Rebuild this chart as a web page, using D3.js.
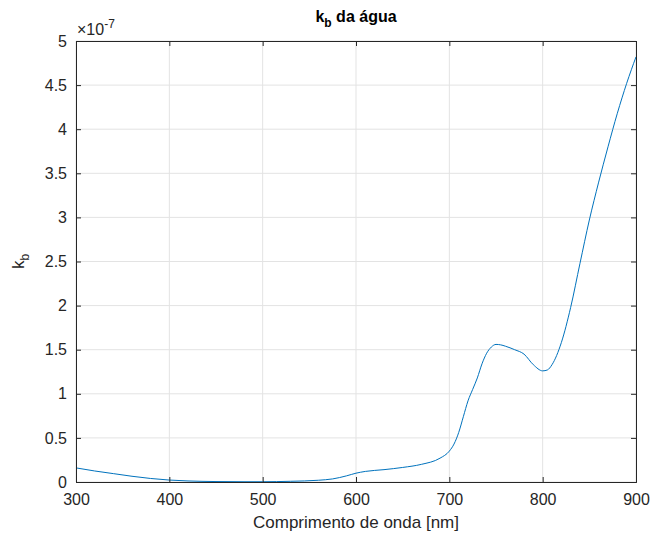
<!DOCTYPE html>
<html>
<head>
<meta charset="utf-8">
<script src="https://cdn.jsdelivr.net/npm/d3@7"></script>
<style>
  html, body { margin: 0; padding: 0; background: #fff; }
  svg { display: block; font-family: "Liberation Sans", Arial, sans-serif; }
</style>
</head>
<body>
<svg id="chart" width="652" height="537"></svg>
<script>
// Wavelength in nm
const wavelength = [300, 320, 340, 360, 380, 400, 420, 450, 480, 500, 530, 560, 575, 590, 600, 610, 630, 650, 670, 690, 700, 705, 710, 715, 720, 725, 730, 735, 740, 745, 750, 755, 760, 770, 780, 790, 800, 805, 810, 820, 830, 840, 850, 860, 870, 880, 890, 900];
// k_b of water (units of 1e-7)
const kb = [0.16, 0.125, 0.095, 0.065, 0.04, 0.022, 0.012, 0.005, 0.003, 0.003, 0.008, 0.02, 0.035, 0.07, 0.1, 0.12, 0.14, 0.165, 0.2, 0.27, 0.35, 0.43, 0.56, 0.74, 0.92, 1.05, 1.18, 1.34, 1.46, 1.53, 1.56, 1.555, 1.54, 1.5, 1.45, 1.33, 1.26, 1.27, 1.33, 1.58, 1.98, 2.48, 2.97, 3.4, 3.8, 4.18, 4.52, 4.82];

const xTicks = [300, 400, 500, 600, 700, 800, 900];
const yTicks = [0, 0.5, 1, 1.5, 2, 2.5, 3, 3.5, 4, 4.5, 5];

const svg = d3.select("#chart");
const m = { left: 76, right: 636, top: 41, bottom: 482 };
const axisColor = "#262626";
const fontFam = "Liberation Sans, Arial, sans-serif";

const x = d3.scaleLinear().domain([300, 900]).range([m.left, m.right]);
const y = d3.scaleLinear().domain([0, 5]).range([m.bottom, m.top]);

// grid
const grid = svg.append("g");
grid.selectAll(".gx").data(xTicks).join("line")
  .attr("x1", d => x(d)).attr("x2", d => x(d))
  .attr("y1", m.top).attr("y2", m.bottom)
  .attr("stroke", "#e3e3e3").attr("stroke-width", 1);
grid.selectAll(".gy").data(yTicks).join("line")
  .attr("x1", m.left).attr("x2", m.right)
  .attr("y1", d => y(d)).attr("y2", d => y(d))
  .attr("stroke", "#e3e3e3").attr("stroke-width", 1);

// data line
const line = d3.line().x((d, i) => x(wavelength[i])).y(d => y(d)).curve(d3.curveMonotoneX);
svg.append("path").datum(kb)
  .attr("d", line)
  .attr("fill", "none")
  .attr("stroke", "#0072BD")
  .attr("stroke-width", 1);

// axes (ticks inward, box on all sides)
const fmt = d => d3.format("")(d);
const bottomAxis = d3.axisBottom(x).tickValues(xTicks).tickSize(-5).tickPadding(12).tickFormat(fmt);
const topAxis = d3.axisTop(x).tickValues(xTicks).tickSize(-5).tickFormat("");
const leftAxis = d3.axisLeft(y).tickValues(yTicks).tickSize(-5).tickPadding(9).tickFormat(fmt);
const rightAxis = d3.axisRight(y).tickValues(yTicks).tickSize(-5).tickFormat("");

function style(g) {
  g.select(".domain").attr("stroke", axisColor).attr("stroke-width", 1);
  g.selectAll(".tick line").attr("stroke", axisColor);
  g.selectAll(".tick text").attr("fill", axisColor).attr("font-size", 16).attr("font-family", fontFam);
}
svg.append("g").attr("transform", `translate(0,${m.bottom})`).call(bottomAxis).call(style);
svg.append("g").attr("transform", `translate(0,${m.top})`).call(topAxis).call(style);
svg.append("g").attr("transform", `translate(${m.left},0)`).call(leftAxis).call(style);
svg.append("g").attr("transform", `translate(${m.right},0)`).call(rightAxis).call(style);

// exponent label
const ex = svg.append("text").attr("x", m.left + 1).attr("y", m.top - 6)
  .attr("fill", axisColor).attr("font-size", 16);
ex.append("tspan").text("\u00d710");
ex.append("tspan").attr("dy", -7).attr("font-size", 12).text("-7");

// title
const title = svg.append("text").attr("x", (m.left + m.right) / 2).attr("y", 22)
  .attr("text-anchor", "middle").attr("font-weight", "bold").attr("font-size", 16).attr("fill", "#000");
title.append("tspan").text("k");
title.append("tspan").attr("dy", 5).attr("font-size", 12).text("b");
title.append("tspan").attr("dy", -5).text(" da água");

// x label
svg.append("text").attr("x", (m.left + m.right) / 2).attr("y", 528)
  .attr("text-anchor", "middle").attr("font-size", 17).attr("fill", axisColor)
  .text("Comprimento de onda [nm]");

// y label
const yl = svg.append("text").attr("transform", `translate(24,${(m.top + m.bottom) / 2}) rotate(-90)`)
  .attr("text-anchor", "middle").attr("font-size", 17).attr("fill", axisColor);
yl.append("tspan").text("k");
yl.append("tspan").attr("dy", 5).attr("font-size", 12).text("b");
</script>
</body>
</html>
